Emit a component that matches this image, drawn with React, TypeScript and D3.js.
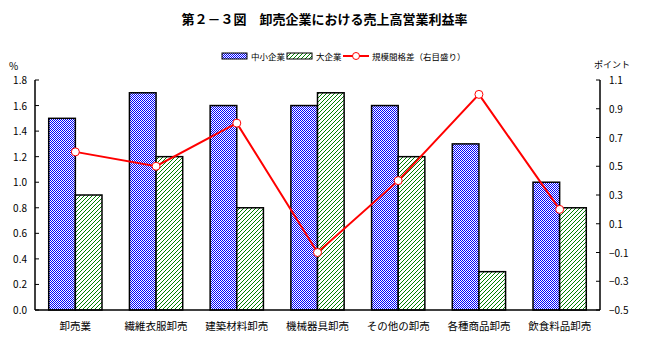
import React from "react";
import * as d3 from "d3";

const categories = ["卸売業", "繊維衣服卸売", "建築材料卸売", "機械器具卸売", "その他の卸売", "各種商品卸売", "飲食料品卸売"];
const smallFirms = [1.5, 1.7, 1.6, 1.6, 1.6, 1.3, 1.0];
const largeFirms = [0.9, 1.2, 0.8, 1.7, 1.2, 0.3, 0.8];
const gap = [0.6, 0.5, 0.8, -0.1, 0.4, 1.0, 0.2];
const leftTicks = [0, 0.2, 0.4, 0.6, 0.8, 1.0, 1.2, 1.4, 1.6, 1.8];
const rightTicks = [-0.5, -0.3, -0.1, 0.1, 0.3, 0.5, 0.7, 0.9, 1.1];

const W = 649;
const H = 343;
const margin = { top: 80, right: 49, bottom: 33, left: 35 };
const font = "'Noto Sans CJK JP', sans-serif";

const App: React.FC = () => {
  const x = d3.scaleBand().domain(categories).range([margin.left, W - margin.right]);
  const yL = d3.scaleLinear().domain([0, 1.8]).range([H - margin.bottom, margin.top]);
  const yR = d3.scaleLinear().domain([-0.5, 1.1]).range([H - margin.bottom, margin.top]);
  const barW = x.bandwidth() * 0.33;
  const line = d3
    .line<number>()
    .x((_, i) => x(categories[i])! + x.bandwidth() / 2)
    .y((d) => yR(d));
  const x0 = margin.left;
  const x1 = W - margin.right;
  const y0 = H - margin.bottom;

  return (
    <div style={{ position: "absolute", left: 0, top: 0 }}>
      <svg width={W} height={H} style={{ display: "block", background: "#fff" }} fontFamily={font}>
        <defs>
          <pattern id="checker" width={2} height={2} patternUnits="userSpaceOnUse">
            <rect width={2} height={2} fill="#fff" />
            <rect width={1} height={1} fill="#0000ff" />
            <rect x={1} y={1} width={1} height={1} fill="#0000ff" />
          </pattern>
          <pattern id="hatch" width={4} height={4} patternUnits="userSpaceOnUse">
            <rect width={4} height={4} fill="#fff" />
            <path d="M-1,1 l2,-2 M0,4 l4,-4 M3,5 l2,-2" stroke="#008000" strokeWidth={1} />
          </pattern>
        </defs>

        <text x={W / 2} y={24} textAnchor="middle" fontSize={13} fontWeight="bold">
          第２－３図　卸売企業における売上高営業利益率
        </text>

        {/* legend */}
        <g fontSize={8.5}>
          <rect x={222} y={53} width={25} height={6} fill="url(#checker)" stroke="#000" strokeWidth={1} />
          <text x={251} y={59.5}>中小企業</text>
          <rect x={287} y={53} width={25} height={6} fill="url(#hatch)" stroke="#000" strokeWidth={1} />
          <text x={316} y={59.5}>大企業</text>
          <line x1={343} x2={369} y1={56} y2={56} stroke="#ff0000" strokeWidth={2} />
          <circle cx={356} cy={56} r={3.5} fill="#fff" stroke="#ff0000" strokeWidth={1} />
          <text x={372} y={59.5}>規模間格差（右目盛り）</text>
        </g>

        {/* bars */}
        {categories.map((c, i) => {
          const cx = x(c)! + x.bandwidth() / 2;
          return (
            <g key={c}>
              <rect x={cx - barW} y={yL(smallFirms[i])} width={barW} height={y0 - yL(smallFirms[i])}
                fill="url(#checker)" stroke="#000" strokeWidth={1.5} />
              <rect x={cx} y={yL(largeFirms[i])} width={barW} height={y0 - yL(largeFirms[i])}
                fill="url(#hatch)" stroke="#000" strokeWidth={1.5} />
            </g>
          );
        })}

        {/* axes */}
        <g stroke="#000" strokeWidth={1.5}>
          <line x1={x0} x2={x0} y1={margin.top} y2={y0} />
          <line x1={x1} x2={x1} y1={margin.top} y2={y0} />
          <line x1={x0} x2={x1} y1={y0} y2={y0} />
        </g>
        <g fontSize={10} fill="#000">
          {leftTicks.map((t) => (
            <g key={t}>
              <line x1={x0} x2={x0 + 4} y1={yL(t)} y2={yL(t)} stroke="#000" />
              <text x={x0 - 8} y={yL(t) + 4} textAnchor="end">{t.toFixed(1)}</text>
            </g>
          ))}
          <text x={9} y={70}>%</text>
          {rightTicks.map((t) => (
            <g key={t}>
              <line x1={x1 - 4} x2={x1} y1={yR(t)} y2={yR(t)} stroke="#000" />
              <text x={x1 + 9} y={yR(t) + 4}>{t < 0 ? "−" + Math.abs(t).toFixed(1) : t.toFixed(1)}</text>
            </g>
          ))}
          <text x={594} y={68} fontSize={9}>ポイント</text>
        </g>

        {/* line series */}
        <path d={line(gap) ?? ""} fill="none" stroke="#ff0000" strokeWidth={2} />
        {gap.map((v, i) => (
          <circle key={i} cx={x(categories[i])! + x.bandwidth() / 2} cy={yR(v)} r={4}
            fill="#fff" stroke="#ff0000" strokeWidth={1} />
        ))}

        {/* category labels */}
        <g fontSize={10.5} textAnchor="middle">
          {categories.map((c) => (
            <text key={c} x={x(c)! + x.bandwidth() / 2} y={330}>{c}</text>
          ))}
        </g>
      </svg>
    </div>
  );
};

export default App;
